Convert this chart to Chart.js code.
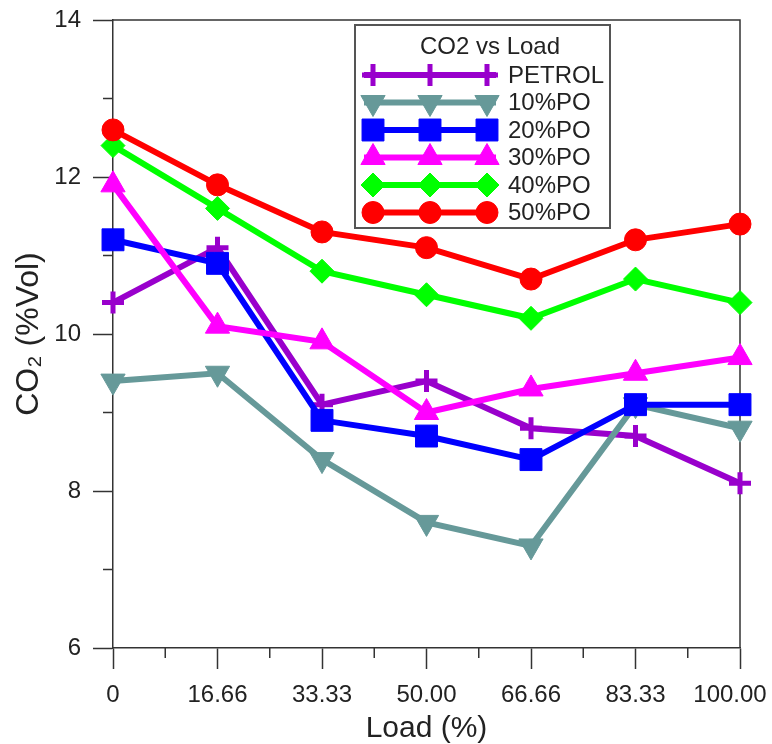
<!doctype html>
<html lang="en">
<head>
    <meta charset="utf-8" />
    <title>CO2 vs Load</title>
    <script src="https://cdn.jsdelivr.net/npm/chart.js@4.4.1/dist/chart.umd.min.js"></script>
    <style>
        html, body { margin: 0; padding: 0; background: #fff; }
        #wrap { width: 772px; height: 744px; }
    </style>
</head>
<body>
    <div id="wrap">
        <canvas id="myChart" width="772" height="744"></canvas>
    </div>

    <script>
        // data
        const loadLabels = ['0', '16.66', '33.33', '50.00', '66.66', '83.33', '100.00'];
        const petrol = [10.4, 11.1, 9.1, 9.4, 8.8, 8.7, 8.1];
        const po10 = [9.4, 9.5, 8.4, 7.6, 7.3, 9.1, 8.8];
        const po20 = [11.2, 10.9, 8.9, 8.7, 8.4, 9.1, 9.1];
        const po30 = [11.9, 10.1, 9.9, 9.0, 9.3, 9.5, 9.7];
        const po40 = [12.4, 11.6, 10.8, 10.5, 10.2, 10.7, 10.4];
        const po50 = [12.6, 11.9, 11.3, 11.1, 10.7, 11.2, 11.4];
        const yMinorTicks = [7, 9, 11, 13];

        const FONT = "'Liberation Sans', Arial, sans-serif";
        const AXIS = '#333';

        // later series are painted over earlier ones, as in the original
        function series(label, data, color, style, radius, rotation, bw, order) {
            return {
                label: label,
                data: data,
                order: order,
                borderColor: color,
                backgroundColor: color,
                borderWidth: 6,
                pointStyle: style,
                pointRadius: radius,
                pointHoverRadius: radius,
                pointRotation: rotation,
                pointBorderWidth: bw,
                pointBackgroundColor: color,
                pointBorderColor: color,
                tension: 0,
                clip: false
            };
        }

        const datasets = [
            series('PETROL', petrol, '#9900cc', 'cross', 11, 0, 5, 6),
            series('10%PO', po10, '#669999', 'triangle', 14, 180, 1, 5),
            series('20%PO', po20, '#0000ff', 'rect', 15.5, 0, 1, 4),
            series('30%PO', po30, '#ff00ff', 'triangle', 14, 0, 1, 3),
            series('40%PO', po40, '#00ff00', 'rectRot', 12, 0, 1, 2),
            series('50%PO', po50, '#ff0000', 'circle', 11, 0, 1, 1)
        ];

        // frame, minor ticks and the boxed legend
        const extras = {
            id: 'extras',
            beforeDatasetsDraw(chart) {
                const ctx = chart.ctx;
                const a = chart.chartArea;
                const xs = chart.scales.x;
                const ys = chart.scales.y;
                ctx.save();
                ctx.strokeStyle = AXIS;
                ctx.lineWidth = 1.5;
                ctx.beginPath();
                ctx.moveTo(a.left, a.top);
                ctx.lineTo(a.right, a.top);
                ctx.lineTo(a.right, a.bottom);
                for (let i = 0; i < loadLabels.length - 1; i++) {
                    const px = (xs.getPixelForTick(i) + xs.getPixelForTick(i + 1)) / 2;
                    ctx.moveTo(px, a.bottom);
                    ctx.lineTo(px, a.bottom + 10);
                }
                yMinorTicks.forEach(v => {
                    const py = ys.getPixelForValue(v);
                    ctx.moveTo(a.left - 10, py);
                    ctx.lineTo(a.left, py);
                });
                ctx.stroke();
                ctx.restore();
            },
            afterDraw(chart) {
                const ctx = chart.ctx;
                const bx = 355, by = 25, bw = 255, bh = 203;
                ctx.save();
                ctx.fillStyle = '#fff';
                ctx.fillRect(bx, by, bw, bh);
                ctx.strokeStyle = '#555';
                ctx.lineWidth = 2;
                ctx.strokeRect(bx, by, bw, bh);

                ctx.fillStyle = '#222';
                ctx.font = '24px ' + FONT;
                ctx.textBaseline = 'middle';
                ctx.textAlign = 'center';
                ctx.fillText('CO2 vs Load', 490, 47);

                ctx.textAlign = 'left';
                chart.data.datasets.forEach((ds, i) => {
                    const y = 75 + i * 27.5;
                    ctx.strokeStyle = ds.borderColor;
                    ctx.fillStyle = ds.borderColor;
                    ctx.lineWidth = 6;
                    ctx.beginPath();
                    ctx.moveTo(364, y);
                    ctx.lineTo(496, y);
                    ctx.stroke();
                    [373, 430, 487].forEach(mx => {
                        ctx.lineWidth = ds.pointBorderWidth;
                        Chart.helpers.drawPoint(ctx, {
                            pointStyle: ds.pointStyle,
                            radius: ds.pointRadius,
                            rotation: ds.pointRotation,
                            borderWidth: ds.pointBorderWidth
                        }, mx, y);
                    });
                    ctx.fillStyle = '#222';
                    ctx.fillText(ds.label, 508, y + 1);
                });
                ctx.restore();
            }
        };

        const ctx = document.getElementById('myChart').getContext('2d');
        const myChart = new Chart(ctx, {
            type: 'line',
            data: { labels: loadLabels, datasets: datasets },
            options: {
                responsive: false,
                animation: false,
                layout: { padding: { top: 20, right: 32, left: 0, bottom: 0 } },
                plugins: {
                    legend: { display: false },
                    tooltip: { enabled: false }
                },
                scales: {
                    x: {
                        type: 'category',
                        offset: false,
                        grid: {
                            drawOnChartArea: false,
                            tickLength: 21,
                            tickColor: AXIS,
                            tickWidth: 1.5
                        },
                        border: { color: AXIS, width: 1.5 },
                        ticks: {
                            color: '#222',
                            font: { family: FONT, size: 24 },
                            padding: 12,
                            maxRotation: 0,
                            autoSkip: false,
                            // last label sits a little left so it stays inside the canvas
                            callback: (v, i) => i === loadLabels.length - 1
                                ? loadLabels[i] + '\u00a0\u00a0\u00a0' : loadLabels[i]
                        },
                        title: {
                            display: true,
                            text: 'Load (%)',
                            color: '#222',
                            font: { family: FONT, size: 30, lineHeight: 1 },
                            padding: { top: 0, bottom: 0 }
                        },
                        afterFit(scale) {
                            scale.height = 96;
                            scale.paddingLeft = 0;
                            scale.paddingRight = 0;
                        }
                    },
                    y: {
                        min: 6,
                        max: 14,
                        grid: {
                            drawOnChartArea: false,
                            tickLength: 20,
                            tickColor: AXIS,
                            tickWidth: 1.5
                        },
                        border: { color: AXIS, width: 1.5 },
                        ticks: {
                            stepSize: 2,
                            color: '#222',
                            font: { family: FONT, size: 24 },
                            padding: 12
                        },
                        title: {
                            display: true,
                            text: 'CO\u2082 (%Vol)',
                            color: '#222',
                            font: { family: FONT, size: 32 },
                            padding: { top: 10, bottom: 0 }
                        },
                        afterFit(scale) {
                            scale.width = 113;
                            scale.paddingTop = 0;
                            scale.paddingBottom = 0;
                        }
                    }
                }
            },
            plugins: [extras]
        });
    </script>
</body>
</html>
